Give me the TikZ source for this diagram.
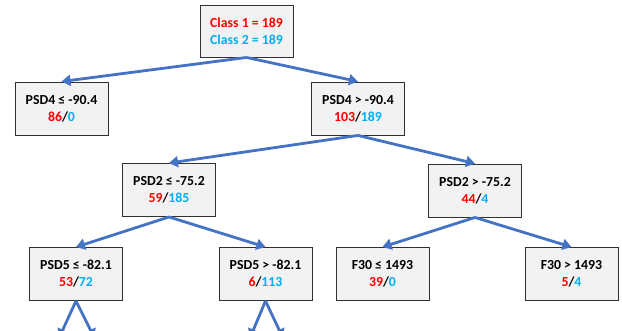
\documentclass[tikz,border=0pt]{standalone}
\usepackage{fontspec}
\setmainfont{Carlito}
\usetikzlibrary{arrows.meta}
\definecolor{cred}{HTML}{FF0000}
\definecolor{cblue}{HTML}{00B0F0}
\definecolor{arr}{HTML}{4472C4}
\definecolor{boxfill}{HTML}{F2F2F2}
\definecolor{boxline}{HTML}{303030}
\tikzset{
  treebox/.style={draw=boxline, fill=boxfill, line width=0.9pt, minimum width=93pt, minimum height=53pt,
    align=center, inner sep=0pt, font=\fontsize{13.8}{17}\selectfont\bfseries},
  link/.style={draw=arr, line width=2.8pt, -{Triangle[length=9pt,width=11pt]}, shorten >=0pt}
}
\newcommand{\rn}[1]{\textcolor{cred}{#1}}
\newcommand{\bn}[1]{\textcolor{cblue}{#1}}
\begin{document}
\begin{tikzpicture}[x=1pt,y=-1pt]
\useasboundingbox (0,0) rectangle (622,331);
\clip (0,0) rectangle (622,331);
\node[treebox, minimum height=52pt] (root) at (246.5,31) {\rn{Class 1 = 189}\\\bn{Class 2 = 189}};
\node[treebox] (a) at (61.5,108.5) {PSD4 ≤ -90.4\\\rn{86}/\bn{0}};
\node[treebox] (b) at (358,108.5) {PSD4 > -90.4\\\rn{103}/\bn{189}};
\node[treebox] (c) at (169,190) {PSD2 ≤ -75.2\\\rn{59}/\bn{185}};
\node[treebox] (d) at (475,190.5) {PSD2 > -75.2\\\rn{44}/\bn{4}};
\node[treebox] (e) at (76,274) {PSD5 ≤ -82.1\\\rn{53}/\bn{72}};
\node[treebox] (f) at (265.5,274) {PSD5 > -82.1\\\rn{6}/\bn{113}};
\node[treebox] (g) at (382.5,274) {F30 ≤ 1493\\\rn{39}/\bn{0}};
\node[treebox] (h) at (571.5,274) {F30 > 1493\\\rn{5}/\bn{4}};
\coordinate (e1) at (59,338);
\coordinate (e2) at (94.5,338);
\coordinate (f1) at (250,338);
\coordinate (f2) at (283,338);
\draw[link] (root.south) -- (a.north);
\draw[link] (root.south) -- (b.north);
\draw[link] (b.south) -- (c.north);
\draw[link] (b.south) -- (d.north);
\draw[link] (c.south) -- (e.north);
\draw[link] (c.south) -- (f.north);
\draw[link] (d.south) -- (g.north);
\draw[link] (d.south) -- (h.north);
\draw[link] (e.south) -- (e1);
\draw[link] (e.south) -- (e2);
\draw[link] (f.south) -- (f1);
\draw[link] (f.south) -- (f2);
\end{tikzpicture}
\end{document}
